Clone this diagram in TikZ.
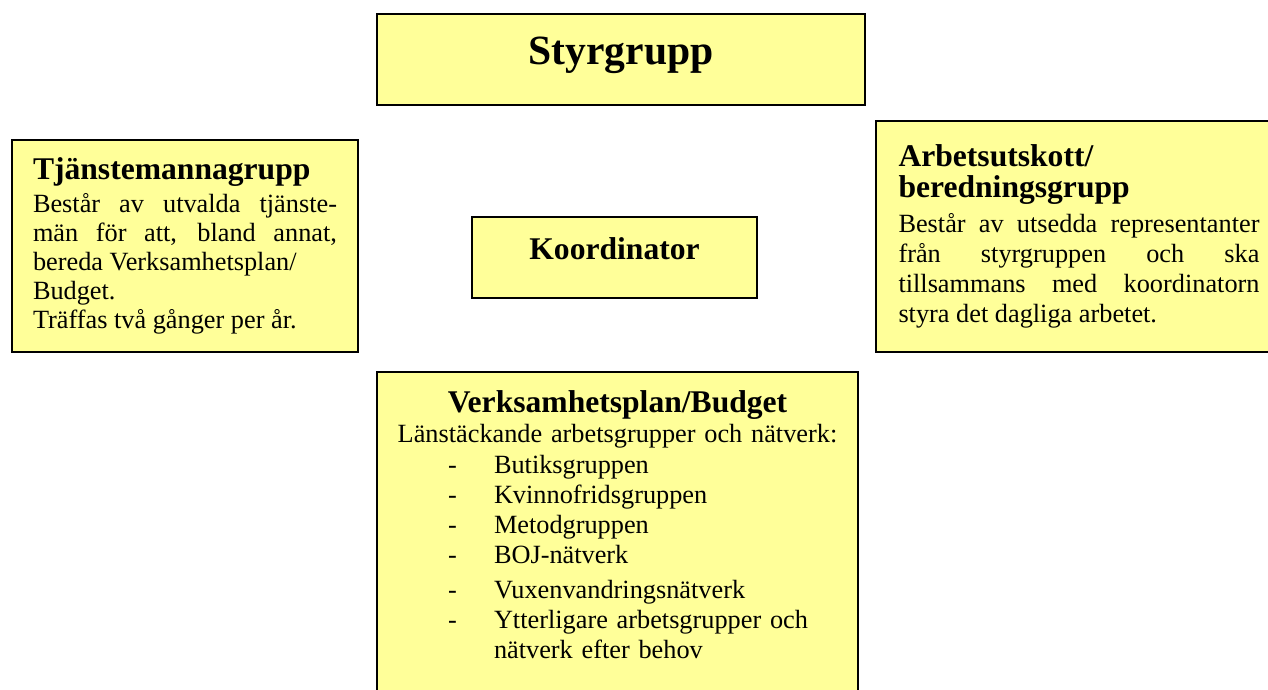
\documentclass[tikz,border=0pt]{standalone}
\usepackage{fontspec}
\setmainfont{Liberation Serif}
\usepackage{tikz}
\tolerance=9999
\hyphenpenalty=10000
\hbadness=10000
\setlength{\parindent}{0pt}
\definecolor{boxyellow}{RGB}{255,255,153}
\newcommand{\bodyfont}{\fontsize{13.15}{15}\selectfont}
\newcommand{\headfont}{\fontsize{15.8}{15.5}\selectfont\bfseries}
\newcommand{\listrad}[2][-]{\makebox[\hsize][l]{\hspace*{35.5pt}\makebox[23pt][l]{#1}#2}}
\tikzset{box/.style={draw=black, fill=boxyellow, line width=1.1pt, font=\bodyfont}}

\begin{document}
\begin{tikzpicture}[x=0.5pt,y=-0.5pt]
    \clip (0,0) rectangle (1268,690);
%    \draw[step=50,gray!50!white,very thin,dashed] (0,0) grid (1268,690);
    \node[box, minimum width=244pt, minimum height=45.5pt, text height=14pt, text depth=8.5pt,
          font=\fontsize{20.8}{24}\selectfont\bfseries] (styrgrupp) at (621,59.5) {Styrgrupp};
    \node[box, minimum width=142.5pt, minimum height=40.5pt, text height=11pt, text depth=9.5pt,
          font=\headfont] (koordinator) at (614.5,257.5) {Koordinator};
    \node[box, minimum width=173pt, minimum height=106pt, text width=152pt, align=justify,
          font=\fontsize{13.15}{14.5}\selectfont] (tjanstemannagrupp) at (185,246)
          {{\headfont Tjänstemannagrupp\par}\vspace{2pt}Består av utvalda tjänste-\linebreak
           män för att, bland annat,\linebreak bereda Verksamhetsplan/\\ Budget.\\
           Träffas två gånger per år.};
    \node[box, minimum width=203pt, minimum height=115.5pt, text width=180.5pt, align=justify]
          (arbetsutskott) at (1079,236.5)
          {{\headfont Arbetsutskott/\\ beredningsgrupp\par}\vspace{2.5pt}Består av utsedda representanter\linebreak
           från styrgruppen och ska\linebreak tillsammans med koordinatorn\linebreak
           styra det dagliga arbetet.};
    \node[box, anchor=north, text width=240.5pt, inner xsep=0pt, inner ysep=9pt, align=center]
          (verksamhetsplan) at (617.5,371)
          {{\headfont Verksamhetsplan/Budget}\\ Länstäckande arbetsgrupper och nätverk:\\[0.5pt]
           \listrad{Butiksgruppen}\\ \listrad{Kvinnofridsgruppen}\\ \listrad{Metodgruppen}\\
           \listrad{BOJ-nätverk}\\[2.5pt] \listrad{Vuxenvandringsnätverk}\\
           \listrad{Ytterligare arbetsgrupper och}\\ \listrad[]{nätverk efter behov}\\
           \rule{0pt}{30pt}};
\end{tikzpicture}
\end{document}
